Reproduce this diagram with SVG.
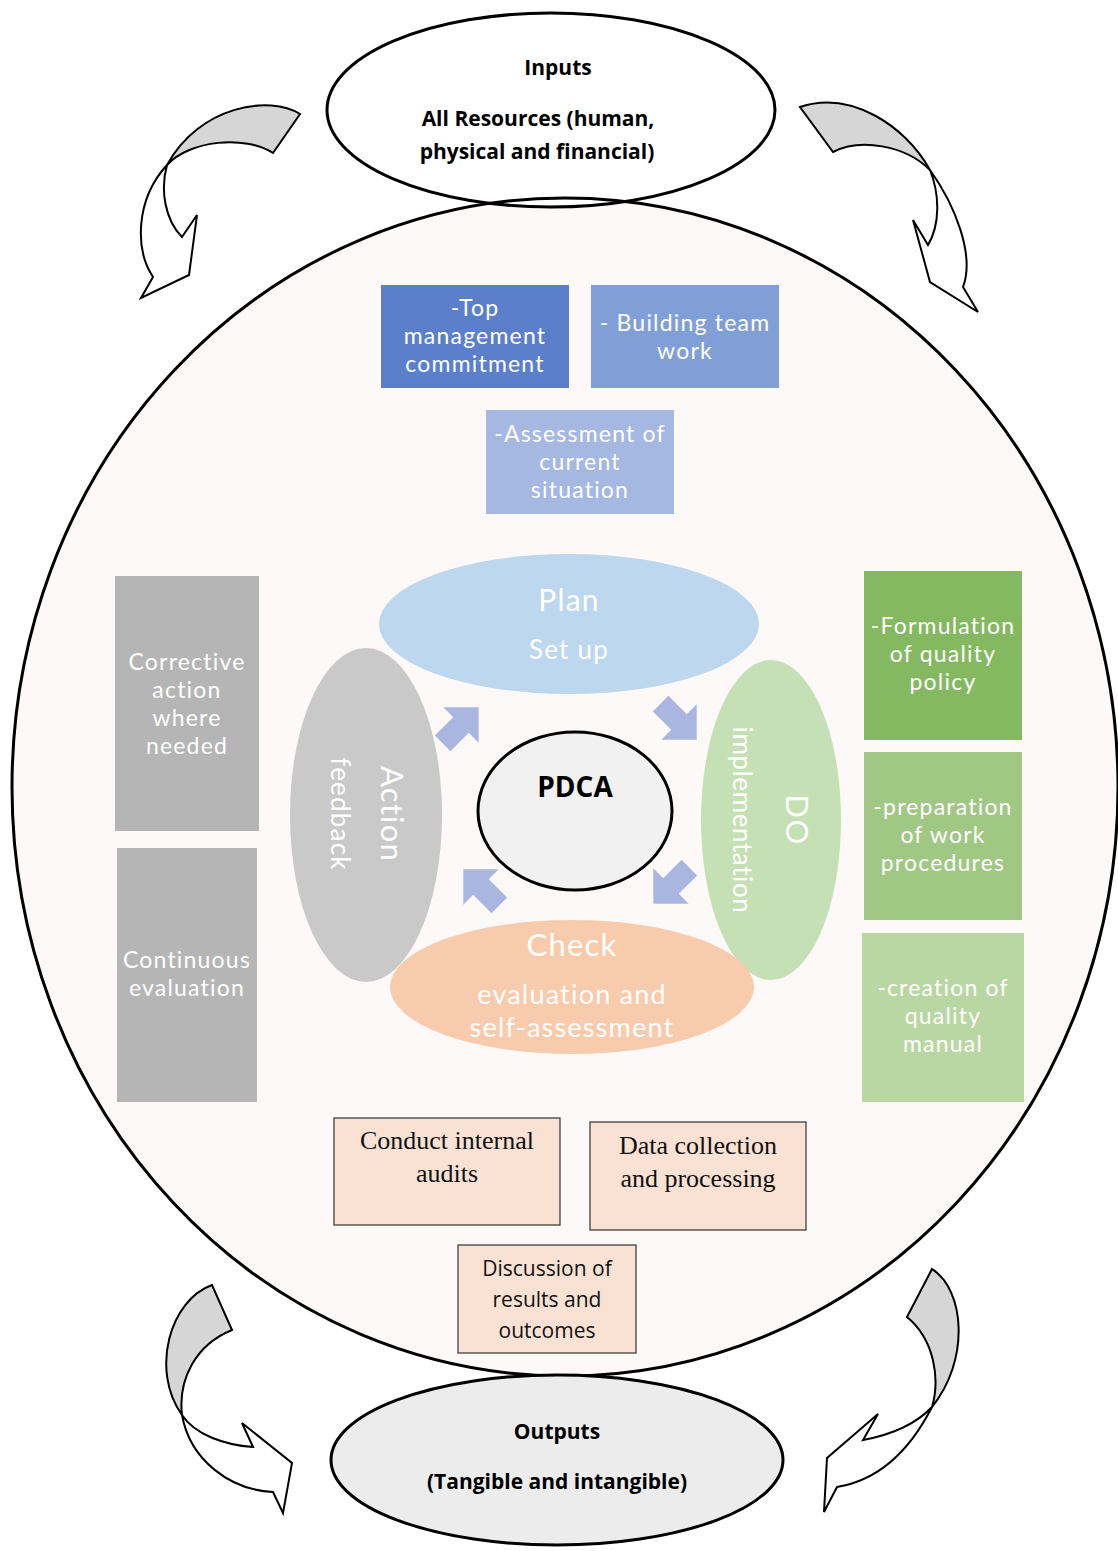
<svg xmlns="http://www.w3.org/2000/svg" width="1118" height="1551" viewBox="0 0 1118 1551">
<defs>
<style>
.bt{font-family:Lato,"Open Sans","Liberation Sans",sans-serif;font-size:23px;fill:#ffffff;text-anchor:middle;letter-spacing:1.2px}
.io{font-family:"Open Sans","Liberation Sans",sans-serif;font-size:21px;font-weight:bold;fill:#000;text-anchor:middle}
.st{font-family:"Liberation Serif","Times New Roman",serif;font-size:26px;fill:#111;text-anchor:middle}
.ss{font-family:"Open Sans","Liberation Sans",sans-serif;font-size:21px;fill:#111;text-anchor:middle}
.ca{fill:none;stroke:#000;stroke-width:2;stroke-linejoin:miter}
.cg{fill:#d6d6d6;stroke:none}
.ba{fill:#a9b6df}
.pk{fill:#f9e2d4;stroke:#333;stroke-width:1.2}
</style>
<polygon id="blk" points="-26,-11 0,-11 0,-25 25,0 0,25 0,11 -26,11"/>
</defs>
<rect width="1118" height="1551" fill="#ffffff"/>

<ellipse cx="565" cy="787" rx="553" ry="589" fill="#fdf9f8"/>

<g id="inputs">
<ellipse cx="551" cy="110" rx="224" ry="97" fill="#ffffff" stroke="#000" stroke-width="3"/>
<text class="io" x="558" y="75">Inputs</text>
<text class="io" x="538" y="126">All Resources (human,</text>
<text class="io" x="537" y="159">physical and financial)</text>
</g>

<g id="system">
<ellipse cx="565" cy="787" rx="553" ry="589" fill="none" stroke="#000" stroke-width="3"/>
</g>

<g id="outputs">
<ellipse cx="557" cy="1460" rx="226" ry="85" fill="#ececec" stroke="#000" stroke-width="3"/>
<text class="io" x="557" y="1439">Outputs</text>
<text class="io" x="557" y="1489">(Tangible and intangible)</text>
</g>

<g id="connectors">
<path class="cg" d="M300,114 C270,95 200,105 167,165 C190,140 245,135 273,153 Z"/>
<path class="ca" d="M300,114 C270,95 200,105 167,165 C160,190 165,220 182,237 L197,215 L189,275 L141,298 L153,277 C135,250 135,200 167,165 C190,140 245,135 273,153 Z"/>
<path class="cg" d="M800,107 C850,90 905,125 930,170 C905,145 860,138 833,152 Z"/>
<path class="ca" d="M800,107 C850,90 905,125 930,170 C955,205 975,255 963,287 L978,312 L930,282 L913,220 L928,245 C940,225 940,195 930,170 C905,145 860,138 833,152 Z"/>
<path class="cg" d="M212,1285 C170,1300 150,1370 182,1415 C178,1380 195,1345 232,1330 Z"/>
<path class="ca" d="M212,1285 C170,1300 150,1370 182,1415 C190,1460 230,1490 273,1492 L283,1513 L292,1463 L242,1423 L253,1447 C225,1445 195,1435 182,1415 C178,1380 195,1345 232,1330 Z"/>
<path class="cg" d="M932,1269 C965,1290 970,1360 932,1407 C940,1380 935,1340 907,1317 Z"/>
<path class="ca" d="M932,1269 C965,1290 970,1360 932,1407 C910,1450 880,1480 837,1487 L824,1512 L827,1458 L878,1414 L863,1440 C890,1435 915,1425 932,1407 C940,1380 935,1340 907,1317 Z"/>
<use href="#blk" class="ba" transform="translate(461,725) rotate(-45)"/>
<use href="#blk" class="ba" transform="translate(679,722) rotate(45)"/>
<use href="#blk" class="ba" transform="translate(671,886) rotate(135)"/>
<use href="#blk" class="ba" transform="translate(481,887) rotate(-135)"/>
</g>

<g id="top-management">
<rect x="381" y="285" width="188" height="103" fill="#5b7fca"/>
<text class="bt" x="475" y="316">-Top</text>
<text class="bt" x="475" y="344">management</text>
<text class="bt" x="475" y="372">commitment</text>
</g>
<g id="team-work">
<rect x="591" y="285" width="188" height="103" fill="#7f9fd6"/>
<text class="bt" x="685" y="331">- Building team</text>
<text class="bt" x="685" y="359">work</text>
</g>
<g id="assessment">
<rect x="486" y="410" width="188" height="104" fill="#a4b8e1"/>
<text class="bt" x="580" y="442">-Assessment of</text>
<text class="bt" x="580" y="470">current</text>
<text class="bt" x="580" y="498">situation</text>
</g>

<g id="plan">
<ellipse cx="569" cy="624" rx="190" ry="70" fill="#bdd7ee"/>
<text class="bt" x="569" y="611" style="font-size:30px">Plan</text>
<text class="bt" x="569" y="659" style="font-size:26px">Set up</text>
</g>
<g id="action">
<ellipse cx="366" cy="815" rx="76" ry="167" fill="#c9c9c9"/>
<text class="bt" transform="translate(381,814) rotate(90)" style="font-size:31px">Action</text>
<text class="bt" transform="translate(331,814) rotate(90)" style="font-size:26px">feedback</text>
</g>
<g id="do">
<ellipse cx="771" cy="820" rx="70" ry="160" fill="#c5e0b4"/>
<text class="bt" transform="translate(786,820) rotate(90)" style="font-size:31px">DO</text>
<text class="bt" transform="translate(733,820) rotate(90)" style="font-size:26px;letter-spacing:0.6px">implementation</text>
</g>
<g id="check">
<ellipse cx="572" cy="987" rx="182" ry="67" fill="#f8cbad"/>
<text class="bt" x="572" y="956" style="font-size:31px">Check</text>
<text class="bt" x="572" y="1004" style="font-size:27px">evaluation and</text>
<text class="bt" x="572" y="1037" style="font-size:27px">self-assessment</text>
</g>
<g id="pdca">
<ellipse cx="575" cy="811" rx="97" ry="79" fill="#f1f1f1" stroke="#000" stroke-width="3"/>
<text x="575" y="797" text-anchor="middle" style="font-family:'Open Sans','Liberation Sans',sans-serif;font-size:28px;font-weight:bold;fill:#000">PDCA</text>
</g>

<g id="corrective-action">
<rect x="115" y="576" width="144" height="255" fill="#b5b5b5"/>
<text class="bt" x="187" y="670">Corrective</text>
<text class="bt" x="187" y="698">action</text>
<text class="bt" x="187" y="726">where</text>
<text class="bt" x="187" y="754">needed</text>
</g>
<g id="continuous-evaluation">
<rect x="117" y="848" width="140" height="254" fill="#b5b5b5"/>
<text class="bt" x="187" y="968">Continuous</text>
<text class="bt" x="187" y="996">evaluation</text>
</g>

<g id="quality-policy">
<rect x="864" y="571" width="158" height="169" fill="#84b962"/>
<text class="bt" x="943" y="634">-Formulation</text>
<text class="bt" x="943" y="662">of quality</text>
<text class="bt" x="943" y="690">policy</text>
</g>
<g id="work-procedures">
<rect x="864" y="752" width="158" height="168" fill="#a0c884"/>
<text class="bt" x="943" y="815">-preparation</text>
<text class="bt" x="943" y="843">of work</text>
<text class="bt" x="943" y="871">procedures</text>
</g>
<g id="quality-manual">
<rect x="862" y="933" width="162" height="169" fill="#b9d7a2"/>
<text class="bt" x="943" y="996">-creation of</text>
<text class="bt" x="943" y="1024">quality</text>
<text class="bt" x="943" y="1052">manual</text>
</g>

<g id="internal-audits">
<rect class="pk" x="334" y="1118" width="226" height="107"/>
<text class="st" x="447" y="1149">Conduct internal</text>
<text class="st" x="447" y="1182">audits</text>
</g>
<g id="data-collection">
<rect class="pk" x="590" y="1122" width="216" height="108"/>
<text class="st" x="698" y="1154">Data collection</text>
<text class="st" x="698" y="1187">and processing</text>
</g>
<g id="discussion">
<rect class="pk" x="458" y="1245" width="178" height="108"/>
<text class="ss" x="547" y="1276">Discussion of</text>
<text class="ss" x="547" y="1307">results and</text>
<text class="ss" x="547" y="1338">outcomes</text>
</g>
</svg>
